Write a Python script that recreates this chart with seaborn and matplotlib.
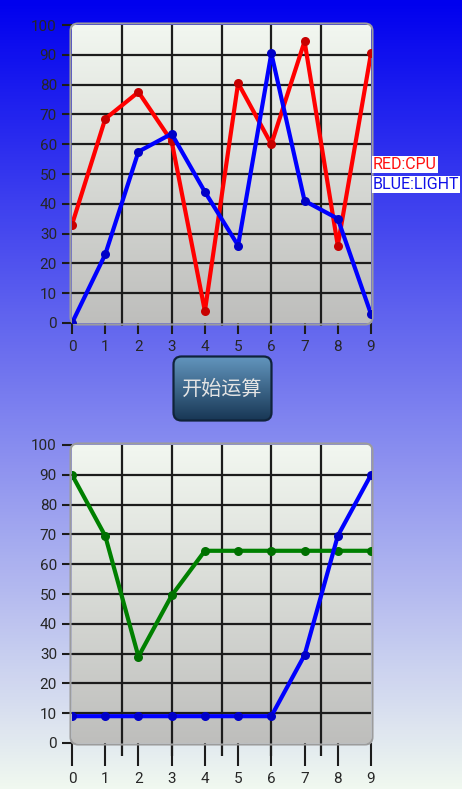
import numpy as np
import pandas as pd
import matplotlib
matplotlib.use('Agg')
import matplotlib.pyplot as plt
from matplotlib.patches import FancyBboxPatch
import seaborn as sns

# data
x_vals = list(range(10))
cpu = [33, 68.5, 77.5, 61, 4, 80.5, 60, 94.5, 26, 90.5]
light_top = [0, 23, 57.5, 63.5, 44, 26, 90.5, 41, 35, 3]
green = [90, 69.5, 29, 49.5, 64.5, 64.5, 64.5, 64.5, 64.5, 64.5]
light_bottom = [9, 9, 9, 9, 9, 9, 9, 29.5, 69.5, 90]
y_ticks = list(range(0, 101, 10))
grid_x = [1.5, 3, 4.5, 6, 7.5]
minor_x = [0.5, 1.5, 2.5, 3.5, 4.5, 5.5, 6.5, 7.5, 8.5]
legend_labels = ['RED:CPU', 'BLUE:LIGHT']
button_label = '开始运算'

W, H = 462, 789
sns.set_style('white')
plt.rcParams['font.family'] = ['Roboto', 'Noto Sans CJK SC', 'DejaVu Sans']

fig = plt.figure(figsize=(W / 100, H / 100), dpi=100)


def fig_rect(x0, y0, x1, y1):
    return [x0 / W, 1 - y1 / H, (x1 - x0) / W, (y1 - y0) / H]


def vgrad(c_top, c_bot, n=256):
    t = np.linspace(0, 1, n)[:, None]
    c_top = np.array(c_top) / 255.0
    c_bot = np.array(c_bot) / 255.0
    return (c_top + (c_bot - c_top) * t)[:, None, :]


# background gradient
bg = fig.add_axes([0, 0, 1, 1], zorder=-10)
bg.imshow(vgrad((0, 0, 238), (240, 248, 240)), aspect='auto', extent=[0, 1, 0, 1])
bg.axis('off')


def draw_chart(rect, series, major_len, minor_len, minor=None):
    ax = fig.add_axes(rect)
    ax.patch.set_visible(False)
    for s in ax.spines.values():
        s.set_visible(False)

    panel = FancyBboxPatch((0, 0), 1, 1, boxstyle='round,pad=0.005,rounding_size=0.025',
                           transform=ax.transAxes, facecolor='none',
                           edgecolor='#9c9c9c', lw=1.5, clip_on=False, zorder=2)
    ax.add_patch(panel)
    img = ax.imshow(vgrad((242, 247, 240), (190, 190, 188)), aspect='auto',
                    extent=[0, 9, 0, 100], zorder=0)
    img.set_clip_path(panel)

    ax.hlines(y_ticks[1:-1], 0, 1, transform=ax.get_yaxis_transform(),
              colors='#1c1c1c', lw=1.6, zorder=1)
    ax.vlines(grid_x, -minor_len / 298, 1, transform=ax.get_xaxis_transform(),
              colors='#1c1c1c', lw=1.6, zorder=1, clip_on=False)

    for vals, lc, mc in series:
        df = pd.DataFrame({'x': x_vals, 'y': vals})
        sns.lineplot(data=df, x='x', y='y', ax=ax, color=lc, lw=3, marker='o',
                     markersize=6.5, markerfacecolor=mc, markeredgewidth=0, zorder=3)

    ax.set_xlim(0, 9)
    ax.set_ylim(0, 100)
    ax.set(xlabel='', ylabel='')
    ax.set_xticks(x_vals)
    ax.set_yticks(y_ticks)
    if minor is not None:
        ax.set_xticks(minor, minor=True)
        ax.tick_params(axis='x', which='minor', length=minor_len * 0.72, width=1.5,
                       color='#1c1c1c', direction='out')
    ax.tick_params(axis='y', length=7.2, width=1.5, direction='out', pad=3.6,
                   labelsize=11, color='#1c1c1c', labelcolor='#262626', left=True)
    ax.tick_params(axis='x', length=major_len * 0.72, width=1.5, direction='out',
                   pad=4.2, labelsize=11, color='#1c1c1c', labelcolor='#262626', bottom=True)
    return ax


draw_chart(fig_rect(72, 25, 371, 323),
           [(cpu, '#ff0000', '#c80000'), (light_top, '#0000ff', '#0000c8')],
           major_len=11, minor_len=3)
draw_chart(fig_rect(72, 445, 371, 743),
           [(green, '#008000', '#007000'), (light_bottom, '#0000ff', '#0000c8')],
           major_len=23, minor_len=13, minor=minor_x)

# legend texts at the right of the top chart
fig.text(373 / W, 1 - 164.5 / H, legend_labels[0], color='#ff1010', fontsize=11.5,
         ha='left', va='center', bbox=dict(facecolor='white', edgecolor='none', pad=0.6))
fig.text(373 / W, 1 - 184.5 / H, legend_labels[1], color='#1010e8', fontsize=11.5,
         ha='left', va='center', bbox=dict(facecolor='white', edgecolor='none', pad=0.6))

# button
bax = fig.add_axes(fig_rect(172, 355, 273, 422))
bax.set_xlim(0, 101)
bax.set_ylim(0, 67)
bax.axis('off')
btn = FancyBboxPatch((1.5, 1.5), 98, 64, boxstyle='round,pad=0,rounding_size=8',
                     facecolor='none', edgecolor='#10233a', lw=1.6, zorder=2)
bax.add_patch(btn)
bimg = bax.imshow(vgrad((100, 152, 192), (22, 52, 82)), aspect='auto',
                  extent=[0, 101, 0, 67], zorder=0)
bimg.set_clip_path(btn)
bax.text(50.5, 33, button_label, ha='center', va='center', fontsize=14.5,
         color='#e4e4e4', family=['Noto Sans CJK SC', 'DejaVu Sans'])

fig.savefig('out.png', dpi=100)
